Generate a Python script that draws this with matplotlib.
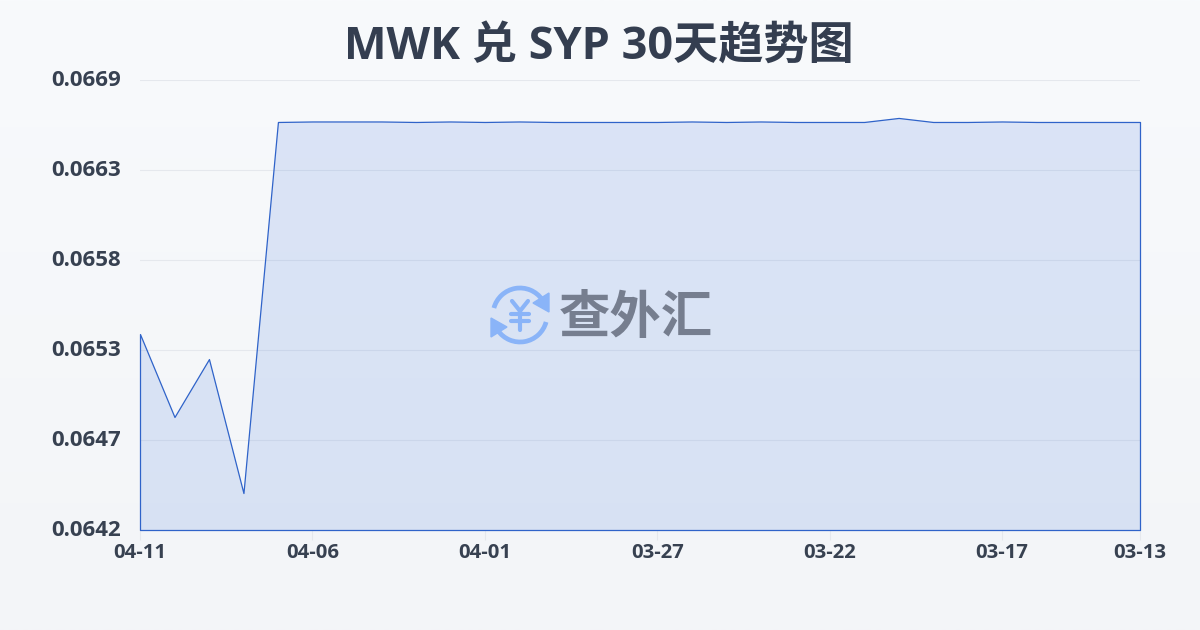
""" MWK to SYP 30 day trend chart """

import numpy as np
import matplotlib
matplotlib.use("Agg")
import matplotlib.pyplot as plt
from matplotlib.patches import Arc, Polygon

plt.rcParams['font.family'] = ['Open Sans', 'Noto Sans CJK SC', 'DejaVu Sans']

title = "MWK 兑 SYP 30天趋势图"
watermark = "查外汇"

# Rates, newest day first
rates = [0.065347, 0.064853, 0.065198, 0.064400, 0.066610, 0.066613,
         0.066613, 0.066613, 0.066610, 0.066613, 0.066610, 0.066613,
         0.066610, 0.066610, 0.066610, 0.066610, 0.066613, 0.066610,
         0.066613, 0.066610, 0.066610, 0.066610, 0.066634, 0.066610,
         0.066610, 0.066613, 0.066610, 0.066610, 0.066610, 0.066610]
x_tick_pos = [0, 5, 10, 15, 20, 25, 29]
x_tick_labels = ["04-11", "04-06", "04-01", "03-27", "03-22", "03-17", "03-13"]
y_ticks = [0.06418, 0.064716, 0.065252, 0.065788, 0.066324, 0.06686]
y_tick_labels = ["0.0642", "0.0647", "0.0653", "0.0658", "0.0663", "0.0669"]

fig = plt.figure(figsize=(12, 6.3), dpi=100)

# Full figure axes in pixels, for the background and the watermark
bg = fig.add_axes([0, 0, 1, 1], zorder=0)
bg.set_xlim(0, 1200)
bg.set_ylim(630, 0)
bg.axis("off")
shade = np.linspace(0, 1, 256).reshape(-1, 1)
top = np.array([248, 250, 252]) / 255
bottom = np.array([243, 245, 248]) / 255
bg.imshow(top + (bottom - top) * shade[:, :, None], extent=(0, 1200, 630, 0), aspect="auto")

# Plot area is 140-1140 across and 80-530 down
ax = fig.add_axes([140 / 1200, 1 - 530 / 630, 1000 / 1200, 450 / 630], zorder=1)
ax.patch.set_alpha(0)
days = np.arange(len(rates))
ax.fill_between(days, rates, y_ticks[0], facecolor=(0.15, 0.38, 0.85, 0.135),
                edgecolor="#2f63c9", linewidth=0.9, clip_on=False)
ax.set_xlim(0, 29)
ax.set_ylim(y_ticks[0], y_ticks[-1])
ax.grid(axis="y", color="#e5e8ed", linewidth=0.8)
ax.set_axisbelow(True)
for side in ax.spines.values():
    side.set_visible(False)

ax.set_xticks(x_tick_pos, x_tick_labels, fontsize=14.6, fontweight="bold", color="#374151")
ax.set_yticks(y_ticks, y_tick_labels, fontsize=16, fontweight="bold", color="#374151",
              va="center")
ax.tick_params(axis="x", length=7, width=0.8, color="#e5e8ed", pad=2.5)
ax.tick_params(axis="y", length=0, pad=14)

fig.text(599 / 1200, 1 - 47 / 630, title, ha="center", va="center", fontsize=32.5,
         fontweight="bold", color="#343e50")

# Watermark on top of the chart
over = fig.add_axes([0, 0, 1, 1], zorder=2)
over.set_xlim(0, 1200)
over.set_ylim(630, 0)
over.axis("off")
blue = "#8ab4f8"
over.add_patch(Arc((520, 315), 54, 54, theta1=195, theta2=325, color=blue, linewidth=3.4))
over.add_patch(Arc((520, 315), 54, 54, theta1=15, theta2=145, color=blue, linewidth=3.4))
over.add_patch(Polygon([(549, 293), (549, 312), (533, 303)], color=blue))
over.add_patch(Polygon([(491, 337), (491, 318), (507, 327)], color=blue))
# Yen sign drawn as strokes, the logo's is thicker than any font's
over.plot([512, 520, 528], [301, 311, 301], color=blue, linewidth=3, solid_capstyle="round")
over.plot([520, 520], [311, 330], color=blue, linewidth=3, solid_capstyle="round")
over.plot([511, 529], [314, 314], color=blue, linewidth=3, solid_capstyle="round")
over.plot([511, 529], [321, 321], color=blue, linewidth=3, solid_capstyle="round")
over.text(636, 317, watermark, ha="center", va="center", fontsize=37, fontweight="bold",
          color="#767e8f", family="Noto Sans CJK SC")

fig.savefig("out.png", dpi=100)
